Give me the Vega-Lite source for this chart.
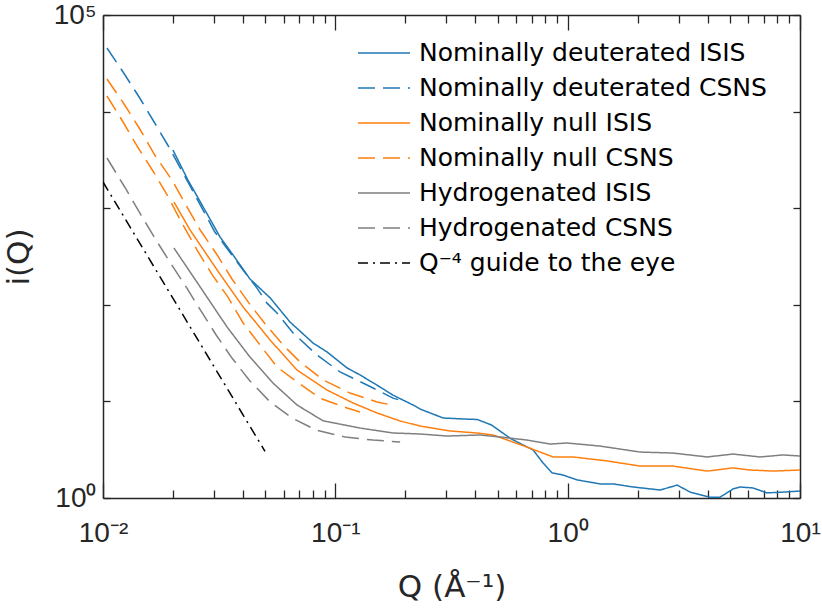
{
  "$schema": "https://vega.github.io/schema/vega-lite/v6.json",
  "width": 697,
  "height": 483,
  "autosize": {"type": "none"},
  "padding": {"left": 103, "top": 15, "right": 22, "bottom": 113},
  "config": {
    "view": {"stroke": null},
    "font": "DejaVu Sans",
    "axis": {
      "grid": false,
      "domainColor": "#262626",
      "domainWidth": 1.5,
      "tickColor": "#262626",
      "tickWidth": 1.3,
      "labelColor": "#262626",
      "labelFont": "Liberation Sans",
      "labelFontSize": 28,
      "titleFont": "DejaVu Sans",
      "titleFontSize": 31,
      "titleFontWeight": "normal",
      "titleColor": "#262626",
      "labelOverlap": false,
      "labelFlush": false
    }
  },
  "data": {
    "values": [
      {"series": "Nominally deuterated ISIS", "run": 0, "Q": 0.0200, "I": 4004},
      {"series": "Nominally deuterated ISIS", "run": 0, "Q": 0.0232, "I": 1958},
      {"series": "Nominally deuterated ISIS", "run": 0, "Q": 0.0270, "I": 1029},
      {"series": "Nominally deuterated ISIS", "run": 0, "Q": 0.0319, "I": 503},
      {"series": "Nominally deuterated ISIS", "run": 0, "Q": 0.0363, "I": 328},
      {"series": "Nominally deuterated ISIS", "run": 0, "Q": 0.0429, "I": 185},
      {"series": "Nominally deuterated ISIS", "run": 0, "Q": 0.0524, "I": 118},
      {"series": "Nominally deuterated ISIS", "run": 0, "Q": 0.0638, "I": 66.4},
      {"series": "Nominally deuterated ISIS", "run": 0, "Q": 0.0802, "I": 40.2},
      {"series": "Nominally deuterated ISIS", "run": 0, "Q": 0.0921, "I": 32.5},
      {"series": "Nominally deuterated ISIS", "run": 0, "Q": 0.1123, "I": 22.2},
      {"series": "Nominally deuterated ISIS", "run": 0, "Q": 0.1277, "I": 18.8},
      {"series": "Nominally deuterated ISIS", "run": 0, "Q": 0.1557, "I": 14.1},
      {"series": "Nominally deuterated ISIS", "run": 0, "Q": 0.1771, "I": 11.6},
      {"series": "Nominally deuterated ISIS", "run": 0, "Q": 0.216, "I": 9.18},
      {"series": "Nominally deuterated ISIS", "run": 0, "Q": 0.2315, "I": 8.34},
      {"series": "Nominally deuterated ISIS", "run": 0, "Q": 0.291, "I": 6.73},
      {"series": "Nominally deuterated ISIS", "run": 0, "Q": 0.369, "I": 6.55},
      {"series": "Nominally deuterated ISIS", "run": 0, "Q": 0.408, "I": 6.5},
      {"series": "Nominally deuterated ISIS", "run": 0, "Q": 0.47, "I": 5.7},
      {"series": "Nominally deuterated ISIS", "run": 0, "Q": 0.57, "I": 4.1},
      {"series": "Nominally deuterated ISIS", "run": 0, "Q": 0.710, "I": 3.14},
      {"series": "Nominally deuterated ISIS", "run": 0, "Q": 0.784, "I": 2.30},
      {"series": "Nominally deuterated ISIS", "run": 0, "Q": 0.857, "I": 1.82},
      {"series": "Nominally deuterated ISIS", "run": 0, "Q": 0.955, "I": 1.73},
      {"series": "Nominally deuterated ISIS", "run": 0, "Q": 1.097, "I": 1.54},
      {"series": "Nominally deuterated ISIS", "run": 0, "Q": 1.377, "I": 1.40},
      {"series": "Nominally deuterated ISIS", "run": 0, "Q": 1.567, "I": 1.40},
      {"series": "Nominally deuterated ISIS", "run": 0, "Q": 1.914, "I": 1.30},
      {"series": "Nominally deuterated ISIS", "run": 0, "Q": 2.50, "I": 1.21},
      {"series": "Nominally deuterated ISIS", "run": 0, "Q": 2.96, "I": 1.36},
      {"series": "Nominally deuterated ISIS", "run": 0, "Q": 3.37, "I": 1.15},
      {"series": "Nominally deuterated ISIS", "run": 0, "Q": 4.10, "I": 1.02},
      {"series": "Nominally deuterated ISIS", "run": 0, "Q": 4.53, "I": 1.02},
      {"series": "Nominally deuterated ISIS", "run": 0, "Q": 5.15, "I": 1.24},
      {"series": "Nominally deuterated ISIS", "run": 0, "Q": 5.52, "I": 1.30},
      {"series": "Nominally deuterated ISIS", "run": 0, "Q": 6.28, "I": 1.27},
      {"series": "Nominally deuterated ISIS", "run": 0, "Q": 7.21, "I": 1.13},
      {"series": "Nominally deuterated ISIS", "run": 0, "Q": 8.45, "I": 1.15},
      {"series": "Nominally deuterated ISIS", "run": 0, "Q": 10, "I": 1.18},

      {"series": "Nominally deuterated CSNS", "run": 0, "Q": 0.0104, "I": 45540},
      {"series": "Nominally deuterated CSNS", "run": 0, "Q": 0.0122, "I": 25700},
      {"series": "Nominally deuterated CSNS", "run": 0, "Q": 0.0143, "I": 14160},
      {"series": "Nominally deuterated CSNS", "run": 0, "Q": 0.0164, "I": 8185},
      {"series": "Nominally deuterated CSNS", "run": 0, "Q": 0.0191, "I": 4405},
      {"series": "Nominally deuterated CSNS", "run": 0, "Q": 0.0237, "I": 1698},
      {"series": "Nominally deuterated CSNS", "run": 0, "Q": 0.0303, "I": 567},
      {"series": "Nominally deuterated CSNS", "run": 0, "Q": 0.0389, "I": 252},
      {"series": "Nominally deuterated CSNS", "run": 0, "Q": 0.0460, "I": 149},
      {"series": "Nominally deuterated CSNS", "run": 0, "Q": 0.0508, "I": 104},
      {"series": "Nominally deuterated CSNS", "run": 0, "Q": 0.0561, "I": 82.3},
      {"series": "Nominally deuterated CSNS", "run": 0, "Q": 0.0658, "I": 51.1},
      {"series": "Nominally deuterated CSNS", "run": 0, "Q": 0.0834, "I": 30.2},
      {"series": "Nominally deuterated CSNS", "run": 0, "Q": 0.1047, "I": 20.2},
      {"series": "Nominally deuterated CSNS", "run": 0, "Q": 0.1369, "I": 14.8},
      {"series": "Nominally deuterated CSNS", "run": 0, "Q": 0.1771, "I": 10.8},
      {"series": "Nominally deuterated CSNS", "run": 0, "Q": 0.190, "I": 10.3},

      {"series": "Nominally null ISIS", "run": 0, "Q": 0.0202, "I": 1159},
      {"series": "Nominally null ISIS", "run": 0, "Q": 0.0237, "I": 595},
      {"series": "Nominally null ISIS", "run": 0, "Q": 0.0310, "I": 229},
      {"series": "Nominally null ISIS", "run": 0, "Q": 0.0401, "I": 94.9},
      {"series": "Nominally null ISIS", "run": 0, "Q": 0.0524, "I": 43.2},
      {"series": "Nominally null ISIS", "run": 0, "Q": 0.0684, "I": 21.1},
      {"series": "Nominally null ISIS", "run": 0, "Q": 0.0921, "I": 13.1},
      {"series": "Nominally null ISIS", "run": 0, "Q": 0.1192, "I": 9.63},
      {"series": "Nominally null ISIS", "run": 0, "Q": 0.1511, "I": 7.59},
      {"series": "Nominally null ISIS", "run": 0, "Q": 0.190, "I": 6.27},
      {"series": "Nominally null ISIS", "run": 0, "Q": 0.2315, "I": 5.56},
      {"series": "Nominally null ISIS", "run": 0, "Q": 0.312, "I": 4.94},
      {"series": "Nominally null ISIS", "run": 0, "Q": 0.408, "I": 4.71},
      {"series": "Nominally null ISIS", "run": 0, "Q": 0.478, "I": 4.49},
      {"series": "Nominally null ISIS", "run": 0, "Q": 0.565, "I": 3.89},
      {"series": "Nominally null ISIS", "run": 0, "Q": 0.668, "I": 3.37},
      {"series": "Nominally null ISIS", "run": 0, "Q": 0.760, "I": 2.99},
      {"series": "Nominally null ISIS", "run": 0, "Q": 0.865, "I": 2.66},
      {"series": "Nominally null ISIS", "run": 0, "Q": 1.055, "I": 2.66},
      {"series": "Nominally null ISIS", "run": 0, "Q": 1.478, "I": 2.42},
      {"series": "Nominally null ISIS", "run": 0, "Q": 2.05, "I": 2.14},
      {"series": "Nominally null ISIS", "run": 0, "Q": 2.84, "I": 2.14},
      {"series": "Nominally null ISIS", "run": 0, "Q": 3.98, "I": 1.90},
      {"series": "Nominally null ISIS", "run": 0, "Q": 5.15, "I": 2.05},
      {"series": "Nominally null ISIS", "run": 0, "Q": 6.10, "I": 1.95},
      {"series": "Nominally null ISIS", "run": 0, "Q": 7.66, "I": 1.90},
      {"series": "Nominally null ISIS", "run": 0, "Q": 10, "I": 1.95},

      {"series": "Nominally null CSNS", "run": 0, "Q": 0.0104, "I": 21760},
      {"series": "Nominally null CSNS", "run": 0, "Q": 0.0124, "I": 11700},
      {"series": "Nominally null CSNS", "run": 0, "Q": 0.0144, "I": 6604},
      {"series": "Nominally null CSNS", "run": 0, "Q": 0.0167, "I": 3554},
      {"series": "Nominally null CSNS", "run": 0, "Q": 0.0198, "I": 1958},
      {"series": "Nominally null CSNS", "run": 0, "Q": 0.0225, "I": 1132},
      {"series": "Nominally null CSNS", "run": 0, "Q": 0.0262, "I": 595},
      {"series": "Nominally null CSNS", "run": 0, "Q": 0.0310, "I": 328},
      {"series": "Nominally null CSNS", "run": 0, "Q": 0.0359, "I": 185},
      {"series": "Nominally null CSNS", "run": 0, "Q": 0.0425, "I": 104},
      {"series": "Nominally null CSNS", "run": 0, "Q": 0.0503, "I": 61.8},
      {"series": "Nominally null CSNS", "run": 0, "Q": 0.0607, "I": 36.6},
      {"series": "Nominally null CSNS", "run": 0, "Q": 0.0705, "I": 25.6},
      {"series": "Nominally null CSNS", "run": 0, "Q": 0.0885, "I": 16.7},
      {"series": "Nominally null CSNS", "run": 0, "Q": 0.1157, "I": 12.2},
      {"series": "Nominally null CSNS", "run": 0, "Q": 0.1511, "I": 9.86},
      {"series": "Nominally null CSNS", "run": 0, "Q": 0.1754, "I": 9.18},
      {"series": "Nominally null CSNS", "run": 1, "Q": 0.0104, "I": 14500},
      {"series": "Nominally null CSNS", "run": 1, "Q": 0.0122, "I": 7803},
      {"series": "Nominally null CSNS", "run": 1, "Q": 0.0141, "I": 4300},
      {"series": "Nominally null CSNS", "run": 1, "Q": 0.0163, "I": 2486},
      {"series": "Nominally null CSNS", "run": 1, "Q": 0.0189, "I": 1369},
      {"series": "Nominally null CSNS", "run": 1, "Q": 0.0215, "I": 755},
      {"series": "Nominally null CSNS", "run": 1, "Q": 0.0254, "I": 369},
      {"series": "Nominally null CSNS", "run": 1, "Q": 0.0296, "I": 203},
      {"series": "Nominally null CSNS", "run": 1, "Q": 0.0345, "I": 120},
      {"series": "Nominally null CSNS", "run": 1, "Q": 0.0401, "I": 64.8},
      {"series": "Nominally null CSNS", "run": 1, "Q": 0.0474, "I": 38.4},
      {"series": "Nominally null CSNS", "run": 1, "Q": 0.0561, "I": 22.7},
      {"series": "Nominally null CSNS", "run": 1, "Q": 0.0684, "I": 15.9},
      {"series": "Nominally null CSNS", "run": 1, "Q": 0.0859, "I": 10.8},
      {"series": "Nominally null CSNS", "run": 1, "Q": 0.1123, "I": 8.55},
      {"series": "Nominally null CSNS", "run": 1, "Q": 0.1277, "I": 7.77},

      {"series": "Hydrogenated ISIS", "run": 0, "Q": 0.0202, "I": 387},
      {"series": "Hydrogenated ISIS", "run": 0, "Q": 0.0262, "I": 153},
      {"series": "Hydrogenated ISIS", "run": 0, "Q": 0.0342, "I": 58.9},
      {"series": "Hydrogenated ISIS", "run": 0, "Q": 0.0429, "I": 28.8},
      {"series": "Hydrogenated ISIS", "run": 0, "Q": 0.0539, "I": 15.5},
      {"series": "Hydrogenated ISIS", "run": 0, "Q": 0.0684, "I": 9.18},
      {"series": "Hydrogenated ISIS", "run": 0, "Q": 0.0885, "I": 6.3},
      {"series": "Hydrogenated ISIS", "run": 0, "Q": 0.1277, "I": 5.30},
      {"series": "Hydrogenated ISIS", "run": 0, "Q": 0.1771, "I": 4.71},
      {"series": "Hydrogenated ISIS", "run": 0, "Q": 0.2315, "I": 4.60},
      {"series": "Hydrogenated ISIS", "run": 0, "Q": 0.3026, "I": 4.38},
      {"series": "Hydrogenated ISIS", "run": 0, "Q": 0.420, "I": 4.49},
      {"series": "Hydrogenated ISIS", "run": 0, "Q": 0.512, "I": 4.28},
      {"series": "Hydrogenated ISIS", "run": 0, "Q": 0.668, "I": 3.98},
      {"series": "Hydrogenated ISIS", "run": 0, "Q": 0.840, "I": 3.62},
      {"series": "Hydrogenated ISIS", "run": 0, "Q": 0.993, "I": 3.71},
      {"series": "Hydrogenated ISIS", "run": 0, "Q": 1.377, "I": 3.45},
      {"series": "Hydrogenated ISIS", "run": 0, "Q": 2.05, "I": 2.99},
      {"series": "Hydrogenated ISIS", "run": 0, "Q": 2.84, "I": 2.92},
      {"series": "Hydrogenated ISIS", "run": 0, "Q": 3.98, "I": 2.66},
      {"series": "Hydrogenated ISIS", "run": 0, "Q": 5.15, "I": 2.85},
      {"series": "Hydrogenated ISIS", "run": 0, "Q": 6.73, "I": 2.66},
      {"series": "Hydrogenated ISIS", "run": 0, "Q": 8.45, "I": 2.79},
      {"series": "Hydrogenated ISIS", "run": 0, "Q": 10, "I": 2.72},

      {"series": "Hydrogenated CSNS", "run": 0, "Q": 0.0104, "I": 3309},
      {"series": "Hydrogenated CSNS", "run": 0, "Q": 0.0124, "I": 1658},
      {"series": "Hydrogenated CSNS", "run": 0, "Q": 0.0144, "I": 892},
      {"series": "Hydrogenated CSNS", "run": 0, "Q": 0.0167, "I": 491},
      {"series": "Hydrogenated CSNS", "run": 0, "Q": 0.0194, "I": 277},
      {"series": "Hydrogenated CSNS", "run": 0, "Q": 0.0228, "I": 153},
      {"series": "Hydrogenated CSNS", "run": 0, "Q": 0.0264, "I": 86.3},
      {"series": "Hydrogenated CSNS", "run": 0, "Q": 0.0307, "I": 48.7},
      {"series": "Hydrogenated CSNS", "run": 0, "Q": 0.0359, "I": 28.1},
      {"series": "Hydrogenated CSNS", "run": 0, "Q": 0.0429, "I": 16.3},
      {"series": "Hydrogenated CSNS", "run": 0, "Q": 0.0524, "I": 9.86},
      {"series": "Hydrogenated CSNS", "run": 0, "Q": 0.0651, "I": 6.73},
      {"series": "Hydrogenated CSNS", "run": 0, "Q": 0.0826, "I": 5.06},
      {"series": "Hydrogenated CSNS", "run": 0, "Q": 0.1101, "I": 4.28},
      {"series": "Hydrogenated CSNS", "run": 0, "Q": 0.1453, "I": 3.98},
      {"series": "Hydrogenated CSNS", "run": 0, "Q": 0.190, "I": 3.80},

      {"series": "Q⁻⁴ guide to the eye", "run": 0, "Q": 0.01, "I": 1867},
      {"series": "Q⁻⁴ guide to the eye", "run": 0, "Q": 0.0498, "I": 3.04}
    ]
  },
  "layer": [
    {
      "transform": [{"filter": "datum.series != 'Q⁻⁴ guide to the eye'"}],
      "mark": {"type": "line", "strokeWidth": 1.5, "clip": true},
      "encoding": {
        "x": {
          "field": "Q", "type": "quantitative",
          "scale": {"type": "log", "domain": [0.01, 10], "nice": false},
          "axis": {
            "orient": "bottom",
            "values": [0.01, 0.02, 0.03, 0.04, 0.05, 0.06, 0.07, 0.08, 0.09, 0.1, 0.2, 0.3, 0.4, 0.5, 0.6, 0.7, 0.8, 0.9, 1, 2, 3, 4, 5, 6, 7, 8, 9, 10],
            "labelExpr": "datum.value == 0.01 ? '10⁻²' : datum.value == 0.1 ? '10⁻¹' : datum.value == 1 ? '10⁰' : datum.value == 10 ? '10¹' : ''",
            "tickSize": {"condition": {"test": "datum.value == 0.01 || datum.value == 0.1 || datum.value == 1 || datum.value == 10", "value": -15}, "value": -8},
            "labelFont": "Liberation Sans",
            "labelFontSize": 28,
            "labelPadding": 36,
            "title": "Q (Å⁻¹)",
            "titlePadding": 18
          }
        },
        "y": {
          "field": "I", "type": "quantitative",
          "scale": {"type": "log", "domain": [1, 100000], "nice": false},
          "axis": {
            "orient": "left",
            "values": [1, 10, 100, 1000, 10000, 100000],
            "labelExpr": "datum.value == 1 ? '10⁰' : datum.value == 100000 ? '10⁵' : ''",
            "tickSize": -7,
            "labelFont": "Liberation Sans",
            "labelFontSize": 28,
            "labelPadding": 14,
            "title": "i(Q)",
            "titlePadding": 18
          }
        },
        "color": {
          "field": "series", "type": "nominal",
          "scale": {
            "domain": ["Nominally deuterated ISIS", "Nominally deuterated CSNS", "Nominally null ISIS", "Nominally null CSNS", "Hydrogenated ISIS", "Hydrogenated CSNS", "Q⁻⁴ guide to the eye"],
            "range": ["#1f77b4", "#1f77b4", "#ff7f0e", "#ff7f0e", "#7f7f7f", "#7f7f7f", "#000000"]
          },
          "legend": {"orient": "none", "legendX": 254, "legendY": 25, "title": null, "symbolType": "stroke", "symbolSize": 2704, "symbolStrokeWidth": 1.5, "labelFont": "DejaVu Sans", "labelFontSize": 25, "labelColor": "#000000", "labelLimit": 500, "labelOffset": 8, "rowPadding": 9, "padding": 0,
            "encode": {"symbols": {"update": {"y": {"value": 13}}}, "labels": {"update": {"y": {"value": 13}}}}}
        },
        "strokeDash": {
          "field": "series", "type": "nominal",
          "scale": {
            "domain": ["Nominally deuterated ISIS", "Nominally deuterated CSNS", "Nominally null ISIS", "Nominally null CSNS", "Hydrogenated ISIS", "Hydrogenated CSNS", "Q⁻⁴ guide to the eye"],
            "range": [[1, 0], [17, 8], [1, 0], [17, 8], [1, 0], [17, 8], [10, 5, 2, 5]]
          },
          "legend": {"orient": "none", "legendX": 254, "legendY": 25, "title": null, "symbolType": "stroke", "symbolSize": 2704, "symbolStrokeWidth": 1.5, "labelFont": "DejaVu Sans", "labelFontSize": 25, "labelColor": "#000000", "labelLimit": 500, "labelOffset": 8, "rowPadding": 9, "padding": 0,
            "encode": {"symbols": {"update": {"y": {"value": 13}}}, "labels": {"update": {"y": {"value": 13}}}}}
        },
        "detail": {"field": "run", "type": "nominal"}
      }
    },
    {
      "transform": [{"filter": "datum.series == 'Q⁻⁴ guide to the eye'"}],
      "mark": {"type": "line", "strokeWidth": 1.5, "clip": true},
      "encoding": {
        "x": {
          "field": "Q", "type": "quantitative",
          "scale": {"type": "log", "domain": [0.01, 10], "nice": false},
          "axis": {
            "orient": "top",
            "values": [0.01, 0.02, 0.03, 0.04, 0.05, 0.06, 0.07, 0.08, 0.09, 0.1, 0.2, 0.3, 0.4, 0.5, 0.6, 0.7, 0.8, 0.9, 1, 2, 3, 4, 5, 6, 7, 8, 9, 10],
            "labels": false,
            "tickSize": {"condition": {"test": "datum.value == 0.01 || datum.value == 0.1 || datum.value == 1 || datum.value == 10", "value": -15}, "value": -8},
            "title": null
          }
        },
        "y": {
          "field": "I", "type": "quantitative",
          "scale": {"type": "log", "domain": [1, 100000], "nice": false},
          "axis": {
            "orient": "right",
            "values": [1, 10, 100, 1000, 10000, 100000],
            "labels": false,
            "tickSize": -7,
            "title": null
          }
        },
        "color": {"field": "series", "type": "nominal"},
        "strokeDash": {"field": "series", "type": "nominal"}
      }
    }
  ],
  "resolve": {"axis": {"x": "independent", "y": "independent"}}
}
